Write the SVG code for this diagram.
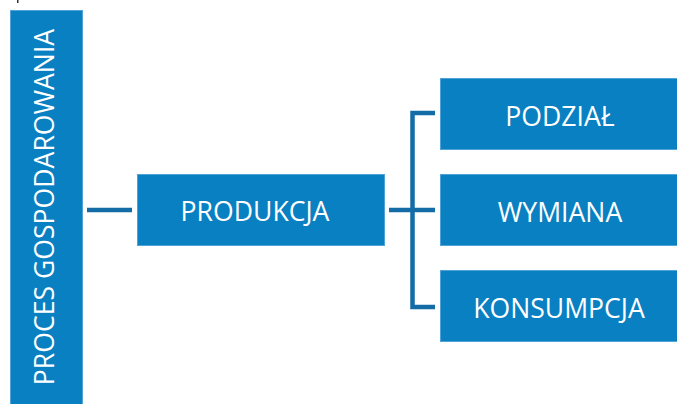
<svg xmlns="http://www.w3.org/2000/svg" width="677" height="404" viewBox="0 0 677 404">
<style>
.box{fill:#0880C2;stroke:#4FA3D8;stroke-width:1}
.lbl{font-family:"Open Sans","Noto Sans",sans-serif;font-size:26.6px;fill:#FFFFFF;text-anchor:middle}
.con{fill:none;stroke:#136CA6;stroke-width:4.5;stroke-linejoin:miter}
</style>
<rect x="0" y="0" width="677" height="404" fill="#FFFFFF"/>
<rect x="17" y="0" width="1.5" height="3" fill="#333333"/>
<g id="connectors">
<path class="con" d="M87 210 H132"/>
<path class="con" d="M389 210 H435"/>
<path class="con" d="M435 113 H412.5 V307 H435"/>
</g>
<g id="proces">
<rect class="box" x="10.5" y="10.5" width="72" height="394"/>
<text class="lbl" transform="translate(54.3,207) rotate(-90)">PROCES GOSPODAROWANIA</text>
</g>
<g id="produkcja">
<rect class="box" x="137.5" y="174.5" width="247" height="71"/>
<text class="lbl" x="255" y="221">PRODUKCJA</text>
</g>
<g id="podzial">
<rect class="box" x="440.5" y="78.5" width="240" height="71"/>
<text class="lbl" x="560" y="126">PODZIAŁ</text>
</g>
<g id="wymiana">
<rect class="box" x="440.5" y="174.5" width="240" height="71"/>
<text class="lbl" x="560" y="221.5">WYMIANA</text>
</g>
<g id="konsumpcja">
<rect class="box" x="440.5" y="270.5" width="240" height="71"/>
<text class="lbl" x="559" y="318">KONSUMPCJA</text>
</g>
</svg>
